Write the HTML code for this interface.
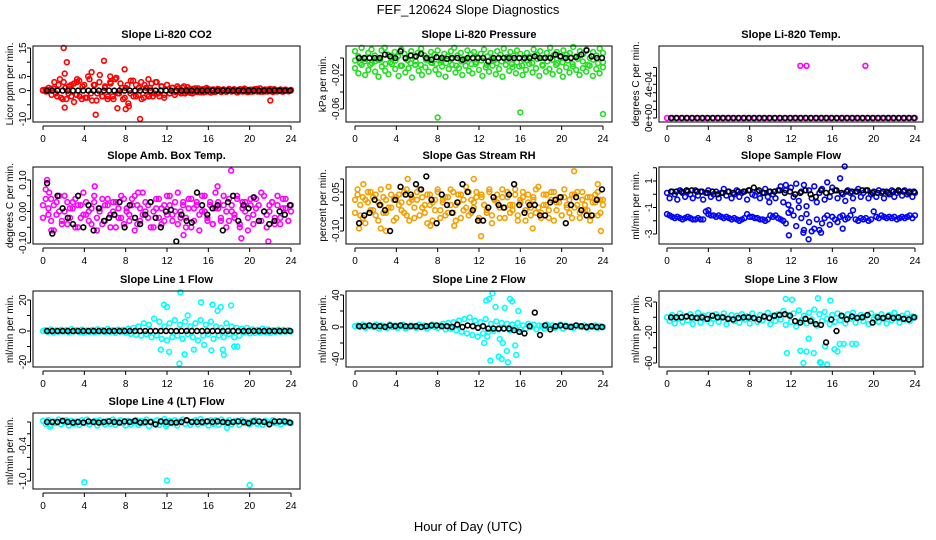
<!DOCTYPE html>
<html><head><meta charset="utf-8">
<style>
html,body{margin:0;padding:0;background:#fff;}
svg{display:block;font-family:"Liberation Sans",sans-serif;}
</style></head>
<body>
<svg id="chart" width="936" height="540" viewBox="0 0 936 540">
<text x="468" y="14" font-size="13" text-anchor="middle">FEF_120624  Slope Diagnostics</text>
<text x="468" y="531" font-size="13" text-anchor="middle">Hour of Day (UTC)</text>
</svg>
<script>
// ---- data (values per panel; times spread evenly over 0-24 h) ----
const xTicks = [0,4,8,12,16,20,24];
const co2Col = [0,0.3,-0.2,0.5,0.8,-1,2,-2.5,3,-3,1.5,-2,2.5,-1.5,3.5,-3,2,-2.5,4,-3.5,2,-1,5.5,-2,1.5,-3,3,-2,4,-1,2.5,-3,1,-4.5,3.5,-2,2,-1.5,3,-2.5,1,-2,2.5,-1,3,-2,1.5,-1.5,2,-1,1,-1.5,1.5,-0.5,1,-1,1.2,-0.8,0.6,-0.5,0.8,-0.6,0.5,-0.4,0.6,-0.7,0.4,-0.3,0.5,-0.5,0.4,-0.4,0.6,-0.3,0.5,-0.6,0.4,-0.3,0.7,-0.5,0.3,-0.4,0.5,-0.3,0.8,-0.4,0.4,-0.3,0.6,-0.5,0.3,-0.2,0.4,-0.3,0.3,-0.2,0.1];
const co2Col2 = [0.2,-0.3,1,-1.5,3,-2,4,-3,1,-1,2,-4,3,-2,1.5,-2.5,5,-1,2,-3.5,3,-2,1,-2,2.5,-3,4.5,-1,1,-2.5,2,-1,3.5,-2,1,-3,2,-1.5,1,-2,3,-1,1.5,-2.5,2,-1,1,-0.5,0.8,-1,1.5,-0.6,0.5,-1,0.8,-0.5,0.4,-0.6,0.9,-0.4,0.3,-0.5,0.6,-0.3,0.4,-0.4,0.5,-0.2,0.3,-0.6,0.5,-0.3,0.4,-0.5,0.3,-0.2,0.6,-0.4,0.2,-0.3,0.4,-0.2,0.5,-0.3,0.2,-0.4,0.3,-0.2,0.2];
const co2OutT = [2,2.3,2.1,5.9,7.9,5.1,9.4,2.1,7.2,8,8.3,22,4.7,3.3,6.5,10.2];
const co2OutV = [15,10,6,10.5,7.5,-8.5,-10,-6,-6.2,-6.5,-5.5,-3.5,6.5,4,5,4];
const co2Blk = [0,0,0,0,0,0,0,0,0,0,0,0,0,0,0,0,0,0,0,0,0,0,0,0,0,0,0,0,0,0,0,0,0,0,0,0,0,0,0,0,0,0,0,0,0,0,0,0];

const presCol = [0.008,0.002,0.012,-0.004,0.006,0.01,0.003,-0.002,0.009,0.012,0.004,0.0,0.007,0.002,0.01,0.005,-0.003,0.008,0.001,0.006,0.011,0.003,0.0,0.007,0.004,0.009,-0.002,0.005,0.002,0.008,0.012,0.003,0.006,-0.001,0.009,0.004,0.007,0.001,0.005,0.01,0.002,0.006,-0.003,0.008,0.004,0.011,0.001,0.007,0.003,0.009,0.005,-0.002,0.006,0.002,0.01,0.004,0.008,0.0,0.006,0.012,0.003,0.007,0.001,0.009,0.004,0.006,0.013,0.002,0.008,0.005,0.01,0.0,0.007,0.003,0.011,0.006];
const presCol2 = [-0.012,-0.018,-0.008,-0.02,-0.014,-0.006,-0.016,-0.022,-0.01,-0.015,-0.019,-0.007,-0.013,-0.021,-0.009,-0.017,-0.012,-0.023,-0.008,-0.015,-0.02,-0.011,-0.016,-0.006,-0.014,-0.019,-0.01,-0.022,-0.013,-0.008,-0.017,-0.012,-0.02,-0.009,-0.015,-0.018,-0.007,-0.014,-0.021,-0.011,-0.016,-0.009,-0.019,-0.013,-0.022,-0.008,-0.015,-0.011,-0.018,-0.01,-0.02,-0.014,-0.007,-0.017,-0.012,-0.021,-0.009,-0.016,-0.013,-0.019,-0.008,-0.015,-0.022,-0.011,-0.017,-0.01,-0.014,-0.02,-0.012,-0.016,-0.009,-0.021,-0.013,-0.018,-0.011];
const presCol3 = [-0.003,-0.006,-0.001,-0.008,-0.004,-0.002,-0.007,-0.005,-0.003,-0.009,-0.001,-0.006,-0.004,-0.008,-0.002,-0.005,-0.007,-0.003,-0.006,-0.001,-0.009,-0.004,-0.002,-0.007,-0.005,-0.003,-0.008,-0.001,-0.006,-0.004,-0.002,-0.007,-0.005,-0.009,-0.003,-0.006,-0.001,-0.008,-0.004,-0.002,-0.006,-0.005,-0.003,-0.007,-0.001,-0.004,-0.008,-0.002,-0.006,-0.005];
const presOutT = [8,16,24];
const presOutV = [-0.07,-0.064,-0.066];
const presBlk = [0,0,0,0,0,0.004,0.002,0,0.008,0,0.003,0.002,0.005,0,-0.002,0.001,0,-0.001,0,0,-0.002,0,0,0,0,-0.004,0,0,0,0,0,0,0,0,0.002,0,0,0,0.004,0.002,0,0,0.001,0.004,0.009,0.002,0,0];

const tempCol = [0,0,0,0,0,0,0,0,0,0,0,0,0,0,0,0,0,0,0,0,0,0,0,0,0,0,0,0,0,0,0,0,0,0,0,0,0,0,0,0,0,0,0,0,0,0,0,0,0];
const tempOutT = [12.9,13.5,19.2];
const tempOutV = [0.00062,0.00062,0.00062];
const tempBlk = [0,0,0,0,0,0,0,0,0,0,0,0,0,0,0,0,0,0,0,0,0,0,0,0,0,0,0,0,0,0,0,0,0,0,0,0,0,0,0,0,0,0,0,0,0,0,0,0];

const ambCol = [0.02,0.07,-0.01,0.04,-0.06,0.03,0.0,-0.03,0.05,-0.04,0.01,0.03,-0.05,0.02,-0.02,0.06,-0.01,0.0,-0.04,0.03,-0.06,0.01,0.04,-0.03,0.02,-0.05,0.0,0.03,-0.02,0.05,-0.04,0.01,-0.01,0.04,-0.06,0.02,-0.03,0.06,0.0,-0.02,0.03,-0.05,0.01,0.04,-0.04,0.02,-0.01,0.05,-0.03,0.0,0.06,-0.02,0.03,-0.05,0.01,0.04,-0.03,0.02,-0.06,0.05,0.0,-0.02,0.03,-0.04,0.06,0.01,-0.03,0.02,-0.05,0.04,0.0,-0.02,0.05,-0.04,0.01,0.03,-0.06,0.02,-0.01,0.04,-0.03,0.06,0.0,-0.05,0.02,0.03,-0.02,0.05,-0.04,0.01,0.04,-0.03,0.0];
const ambCol2 = [-0.02,0.04,0.01,-0.03,0.02,-0.01,0.05,-0.04,0.0,0.03,-0.02,0.01,0.04,-0.05,0.02,-0.01,0.03,-0.03,0.01,0.05,-0.02,0.0,-0.04,0.02,0.04,-0.01,0.03,-0.05,0.01,-0.02,0.04,0.0,-0.03,0.02,0.05,-0.04,0.01,-0.01,0.03,0.02,-0.05,0.0,0.04,-0.02,0.01,-0.03,0.05,0.02,-0.01,0.03,-0.04,0.0,0.02,-0.02,0.04,-0.05,0.01,0.03,-0.01,0.0,0.05,-0.03,0.02,-0.04,0.01,0.03,-0.02,0.05,0.0,-0.03,0.02,-0.01,0.04,-0.05,0.03,0.0,-0.02,0.04,-0.04,0.01,0.02,-0.03,0.05,-0.01,0.0,0.03,-0.04,0.02,-0.02,0.04,0.01,-0.03,0.02];
const ambOutT = [0.4,0.6,5,18.2,19.2,21.8,13.6,0.8,9.2,16.9];
const ambOutV = [0.1,0.06,0.08,0.13,-0.085,-0.095,-0.075,-0.06,0.06,0.08];
const ambBlk = [0.09,-0.07,0.05,0.01,-0.02,-0.04,0.05,-0.05,0.02,-0.06,0.01,-0.03,-0.02,-0.01,0.03,-0.05,0.02,-0.02,-0.04,-0.01,0.03,-0.02,-0.05,0.0,0.005,-0.095,-0.01,-0.03,-0.035,0.06,0.02,-0.01,0.01,0.02,-0.06,0.03,0.05,-0.03,0.02,0.01,0.045,-0.03,0.0,-0.04,-0.03,0.0,-0.01,0.02];

const rhCol = [0.02,0.06,-0.04,0.03,-0.07,0.01,0.05,-0.02,0.04,-0.06,0.0,0.03,-0.03,0.07,-0.01,0.02,-0.05,0.04,0.01,-0.03,0.06,-0.06,0.02,-0.01,0.05,-0.04,0.03,0.0,-0.07,0.04,0.01,-0.02,0.06,-0.05,0.02,0.03,-0.03,0.0,0.05,-0.06,0.01,0.04,-0.02,0.07,-0.04,0.02,-0.01,0.05,-0.05,0.03,0.0,-0.03,0.06,-0.07,0.02,0.04,-0.01,0.03,-0.05,0.05,0.0,-0.02,0.06,-0.04,0.01,0.03,-0.06,0.04,-0.01,0.02,-0.03,0.07,-0.05,0.0,0.04,-0.02,0.05,-0.06,0.01,0.03,-0.04,0.06,-0.01,0.02,-0.05,0.04,0.0,-0.03,0.05,-0.02,0.03,-0.06,0.01,0.04,-0.04,0.02,0.0];
const rhCol2 = [-0.03,0.04,0.0,-0.05,0.02,0.05,-0.02,0.03,-0.04,0.01,0.06,-0.03,0.02,-0.01,0.04,-0.06,0.03,0.0,-0.02,0.05,-0.04,0.01,0.03,-0.05,0.02,0.06,-0.01,-0.03,0.04,0.0,-0.06,0.02,0.05,-0.02,0.01,-0.04,0.03,0.06,-0.03,0.0,0.04,-0.05,0.02,-0.01,0.05,-0.03,0.01,0.03,-0.06,0.04,0.0,-0.02,0.05,-0.04,0.02,0.01,-0.05,0.06,-0.01,0.03,-0.03,0.0,0.04,-0.06,0.02,0.05,-0.02,0.01,-0.04,0.03,0.06,-0.01,-0.03,0.04,0.0,-0.05,0.02,0.05,-0.02,0.01,-0.04,0.03,0.0,-0.03,0.04,-0.01,0.05,-0.05,0.02,0.0,-0.02,0.03,-0.04,0.01,0.05,-0.03,0.02];
const rhOutT = [0.4,0.8,3,5.1,2.5,12.2,17.2,21.2,23.5,7.3,23.8,9.6,11.5];
const rhOutV = [-0.09,0.08,-0.1,0.1,-0.09,-0.12,-0.09,0.13,0.08,-0.08,-0.1,-0.08,0.1];
const rhBlk = [-0.07,-0.04,-0.03,0.02,0.0,-0.02,-0.1,0.02,0.07,0.04,0.04,0.08,0.06,0.11,0.02,-0.07,0.04,0.0,-0.03,0.01,0.08,0.05,-0.02,-0.06,-0.06,-0.01,0.03,0.0,-0.01,0.04,0.08,0.0,-0.03,0.0,0.0,-0.04,-0.04,0.01,0.02,0.03,-0.07,0.0,0.03,-0.02,-0.04,-0.04,0.02,0.06];

const sfUp = [0.1,-0.3,0.2,0.0,-0.4,0.3,0.1,-0.2,0.2,0.0,-0.3,0.3,-0.1,0.2,-0.4,0.1,0.3,-0.2,0.0,0.2,-0.3,0.1,0.4,-0.1,0.2,-0.3,0.0,0.3,-0.2,0.1,0.2,-0.4,0.3,0.0,-0.1,0.2,-0.3,0.1,0.4,-0.2,0.2,0.0,-0.3,0.3,0.6,-0.6,0.3,-0.8,0.5,-0.2,0.8,-0.5,0.2,0.7,-0.9,0.3,-0.3,0.6,-0.6,0.1,0.4,-0.4,0.9,-0.2,0.5,0.3,-0.3,1.2,0.0,-0.5,0.3,0.1,-0.3,0.2,0.4,-0.2,0.1,0.3,-0.3,0.0,0.2,-0.2,0.3,0.1,-0.3,0.2,0.0,0.3,-0.2,0.1,0.2,-0.1,0.3,0.0,0.2,-0.2,0.1];
const sfLow = [-1.5,-1.6,-1.7,-1.8,-1.7,-1.8,-1.9,-1.8,-1.7,-1.8,-1.9,-1.9,-1.8,-1.9,-1.9,-1.3,-1.5,-1.6,-1.6,-1.7,-1.6,-1.7,-1.8,-1.7,-1.8,-1.9,-1.8,-1.9,-2.0,-1.9,-1.8,-1.5,-1.7,-1.7,-1.8,-1.8,-1.9,-1.9,-2.0,-1.9,-1.6,-1.7,-1.6,-1.8,-1.9,-2.0,-2.2,-1.4,-1.2,-1.6,-2.4,-1.0,-1.8,-2.7,-1.5,-2.1,-2.8,-2.6,-1.9,-2.7,-2.2,-1.8,-1.6,-2.3,-1.7,-1.9,-2.1,-1.7,-1.6,-1.9,-1.8,-1.6,-1.2,-1.9,-2.0,-1.8,-1.9,-1.8,-2.0,-1.9,-1.3,-1.7,-1.8,-1.6,-1.7,-1.8,-1.7,-1.8,-1.7,-1.9,-1.8,-1.7,-1.8,-1.7,-1.6,-1.8,-1.6];
const sfOutT = [11.8,13.2,13.7,17.2,14.9,17,9.9,4,11.5];
const sfOutV = [-3.1,-2.9,-3.4,2.1,-2.9,-2.6,-0.6,-1.2,0.7];
const sfBlk = [0.2,0.2,0.2,0.3,0.3,0.2,0.2,0.1,0.2,0.0,0.1,0.2,0.1,0.2,0.2,0.3,0.5,0.3,0.1,0.2,0.2,0.3,0.1,0.2,0.0,0.1,0.3,0.0,-0.2,0.3,0.1,0.2,0.3,0.1,0.2,0.2,0.2,0.3,0.3,0.1,0.1,0.2,0.1,0.2,0.3,0.2,0.1,0.2];

const l1Col = [0,0.5,-0.5,1,-1,0.3,-0.6,0.8,-0.4,0.6,-0.8,1.2,-0.3,0.5,-0.7,0.9,-1,0.4,-0.5,0.7,-0.9,1.1,-0.4,0.6,-0.8,1.3,-0.6,0.5,-1.2,0.9,-0.5,0.8,-1,1.5,-1.8,2,-2.5,3,-3,5,-2,4,-4,8,-3,6,-5,3,-6,5,-4,7,-3,4,-5,6,-2,3,-4,5,-6,7,-3,4,-2,6,-5,3,-3,2,-4,5,-2,3,-4,2,-3,1.5,-1,2,-1.5,1,-1.2,0.8,-1,1.5,-0.8,1,-1.2,0.5,-0.6,0.9,-0.5,0.7,-0.4,0.6,-0.3];
const l1OutT = [11.7,13.3,15.3,16.4,17.2,18.2,12,11.4,13.7,12.2,14.6,16.3,17.5,18.5,18.8,17.4,13.2,15.6,16.9,14];
const l1OutV = [17,25,18.5,17,15.5,16.5,15.5,-12,-15,-13.5,-12,-12.5,-15.5,-10,-10,-12,-21,-9,13,10];
const l1Blk = [0,0,0,0,0,0,0,0,0,0,0,0,0,0,0,0,0,0,0,0,0,0,0,0,0,0,0,0,0,0,0,0,0,0,0,0,0,0,0,0,0,0,0,0,0,0,0,0];

const l2Col = [1,2,0,3,-1,2,1,0,3,-2,2,1,-1,3,0,2,-1,1,3,-2,0,2,1,-1,3,0,2,-2,1,3,0,-1,2,4,-3,5,-2,6,-4,8,-6,10,-8,12,-10,8,-12,6,-8,10,-6,4,-5,7,-3,5,-2,4,-4,3,-1,5,-3,2,-2,4,0,3,-3,2,1,-2,3,0,2,-1,1,3,-2,2,0,1,-1,2,1,0,2,-1,1,0,2,-1,1,0];
const l2OutT = [13.3,12.7,13,13.6,14.5,15,15.2,15.8,12.8,14,14.2,13.1,14.8,15.6,12.5,14.3,14.7,15.5,13.9];
const l2OutV = [42,33,35,25,24,35,32,20,-12,-15,-40,-42,-44,-35,-20,-20,-30,-23,-37];
const l2Blk = [1,1,2,1,1,0,2,1,2,1,1,1,0,1,2,2,1,1,0,3,0,2,1,-1,1,-2,-2,-2,-2,-2,-4,-6,-8,1,18,-10,2,-3,1,2,1,0,2,1,0,1,0,0];

const l3Col = [0,-5,3,-8,-2,5,-6,1,-4,4,-9,-1,6,-7,2,-3,3,-8,-2,4,-6,0,5,-9,-1,3,-5,2,-7,4,-3,1,-8,5,-2,-6,3,-4,0,6,-9,2,-5,4,-3,8,-10,3,-6,5,-12,9,-4,2,-8,6,-3,10,-11,4,-5,7,-2,-9,3,-6,5,-4,1,-8,4,-2,6,-7,0,3,-5,2,-9,5,-3,1,-6,4,-2,-8,3,-4,6,-1,-7,2,-3,5,-5,1,0];
const l3OutT = [11.5,12.1,13.2,13.5,14.2,14.8,15.5,16.2,16.5,17.9,18.3,15.8,14.9,11.6,13.7,14.6,17.1,15.3,16.7,12.9];
const l3OutV = [24,23,-60,-45,-47,-59,-62,-42,-45,-35,-35,22,-60,-47,-28,25,-35,-38,-35,-44];
const l3Blk = [0,0,0,1,0,-1,0,-2,2,0,0,-2,-3,-1,0,0,-1,-3,1,-1,2,3,4,2,-5,-7,-2,-5,-9,-10,-33,-3,-18,2,-3,1,-1,0,3,-7,0,-1,1,-1,0,-2,-3,0];

const l4Col = [0.02,-0.03,0.03,-0.05,0.01,-0.02,0.04,-0.04,0.0,0.03,-0.06,0.02,-0.03,0.01,-0.05,0.03,-0.02,0.04,-0.04,0.0,0.02,-0.06,0.03,-0.01,-0.04,0.02,-0.03,0.04,-0.05,0.01,0.03,-0.02,-0.06,0.02,-0.04,0.0,0.03,-0.05,0.02,-0.02,0.04,-0.07,0.01,-0.03,0.03,-0.05,0.0,0.05,-0.04,0.02,-0.02,0.03,-0.06,0.01,0.04,-0.03,0.02,-0.05,0.0,0.03,-0.04,0.05,-0.02,0.01,-0.06,0.03,-0.03,0.02,-0.05,0.04,0.0,-0.02,0.03,-0.04,0.01,0.02,-0.05,0.03,-0.02,0.0,-0.04,0.02,0.03,-0.03,0.01,-0.05,0.02,0.0,-0.03,0.03,-0.02,0.01,-0.04,0.02,-0.01,0.0,-0.02];
const l4OutT = [4,12,20,0.7,17.8,11.9,16.7];
const l4OutV = [-1.02,-0.99,-1.07,-0.08,-0.1,-0.07,0.03];
const l4Blk = [0,0,0,0.02,0,-0.01,0,-0.01,0.01,0,-0.01,0,0.01,0,-0.01,0.01,0,0.02,-0.01,0,0,-0.04,0.01,0,-0.01,-0.01,0,0.03,0,0,0,0.01,0,0.01,0,-0.01,0,0.01,0,-0.02,0.01,0.01,0,-0.04,0.01,0.01,0.01,-0.01];

// ---- layout (geometry only) ----
const COLS = [[33,300,43,291],[346,612,355,603],[659,923,667,915]];
const ROWS = [[46,122],[167,244],[291,367],[413,489]];
const NS = 'http://www.w3.org/2000/svg';
const svg = document.getElementById('chart');
function mk(tag, attrs, parent) {
  const e = document.createElementNS(NS, tag);
  for (const k in attrs) e.setAttribute(k, attrs[k]);
  (parent || svg).appendChild(e);
  return e;
}
const panels = [
  {key:'co2', title:'Slope Li-820 CO2', ylab:'Licor ppm per min.', c:0,r:0, y:[15,48,-10,119], ticks:[15,10,5,0,-5,-10], labs:['15','','5','0','','-10'], color:'#ff0000', series:[co2Col,co2Col2], outT:co2OutT, outV:co2OutV, blk:co2Blk},
  {key:'pressure', title:'Slope Li-820 Pressure', ylab:'kPa per min.', c:1,r:0, y:[0,58,-0.06,109], ticks:[0,-0.02,-0.04,-0.06], labs:['','-0.02','','-0.06'], color:'#22dd22', series:[presCol,presCol2,presCol3], outT:presOutT, outV:presOutV, blk:presBlk},
  {key:'temp', title:'Slope Li-820 Temp.', ylab:'degrees C per min.', c:2,r:0, y:[0,118,0.0004,84.3], ticks:[0,0.0001,0.0002,0.0003,0.0004,0.0005,0.0006], labs:['0e+00','','','','4e-04','',''], color:'#ff00ff', series:[tempCol], outT:tempOutT, outV:tempOutV, blk:tempBlk},
  {key:'amb', title:'Slope Amb. Box Temp.', ylab:'degrees C per min.', c:0,r:1, y:[0.1,180,-0.1,243], ticks:[0.1,0.05,0,-0.05,-0.1], labs:['0.10','','0.00','','-0.10'], color:'#ff00ff', series:[ambCol,ambCol2], outT:ambOutT, outV:ambOutV, blk:ambBlk},
  {key:'rh', title:'Slope Gas Stream RH', ylab:'percent per min.', c:1,r:1, y:[0.05,192,-0.1,231], ticks:[0.1,0.05,0,-0.05,-0.1], labs:['','0.05','','','-0.10'], color:'#f4a000', series:[rhCol,rhCol2], outT:rhOutT, outV:rhOutV, blk:rhBlk},
  {key:'sample', title:'Slope Sample Flow', ylab:'ml/min per min.', c:2,r:1, y:[1,181,-3,234], ticks:[2,1,0,-1,-2,-3], labs:['','1','','-1','','-3'], color:'#0000ff', series:[sfUp,sfLow], outT:sfOutT, outV:sfOutV, blk:sfBlk},
  {key:'line1', title:'Slope Line 1 Flow', ylab:'ml/min per min.', c:0,r:2, y:[20,300,-20,362], ticks:[20,10,0,-10,-20], labs:['20','','0','','-20'], color:'#00ffff', series:[l1Col], outT:l1OutT, outV:l1OutV, blk:l1Blk},
  {key:'line2', title:'Slope Line 2 Flow', ylab:'ml/min per min.', c:1,r:2, y:[40,295,-40,359], ticks:[40,20,0,-20,-40], labs:['40','','0','','-40'], color:'#00ffff', series:[l2Col], outT:l2OutT, outV:l2OutV, blk:l2Blk},
  {key:'line3', title:'Slope Line 3 Flow', ylab:'ml/min per min.', c:2,r:2, y:[20,302,-60,363], ticks:[20,0,-20,-40,-60], labs:['20','','-20','','-60'], color:'#00ffff', series:[l3Col], outT:l3OutT, outV:l3OutV, blk:l3Blk},
  {key:'line4', title:'Slope Line 4 (LT) Flow', ylab:'ml/min per min.', c:0,r:3, y:[0,422,-1,481], ticks:[0,-0.2,-0.4,-0.6,-0.8,-1.0], labs:['','','-0.4','','','-1.0'], color:'#00ffff', series:[l4Col], outT:l4OutT, outV:l4OutV, blk:l4Blk}
];

panels.forEach(p => {
  const [bx0,bx1,x0,x24] = COLS[p.c];
  const [by0,by1] = ROWS[p.r];
  const xs = t => x0 + t*(x24-x0)/24;
  const ys = v => p.y[1] + (v-p.y[0])*(p.y[3]-p.y[1])/(p.y[2]-p.y[0]);
  const g = mk('g', {});
  
  
  const ttl = mk('text', {x:(bx0+bx1)/2, y:by0-8, 'font-size':11, 'font-weight':'bold', 'text-anchor':'middle'}, g);
  ttl.textContent = p.title;
  
  
  const yl = mk('text', {transform:`translate(${bx0-20},${(by0+by1)/2}) rotate(-90)`, 'font-size':10, 'text-anchor':'middle'}, g);
  yl.textContent = p.ylab;
  
  
  // points
  const pts = mk('g', {fill:'none', 'stroke-width':1.6}, g);
  
  
  const dot = (t, v, col, nm) => {
    const c = mk('circle', {cx:xs(t).toFixed(1), cy:ys(v).toFixed(1), r:2.4, stroke:col}, pts);
    
    
  };
  p.series.forEach(arr => arr.forEach((v,i) => dot(i*24/(arr.length-1), v, p.color, p.key + '-point')));
  p.outT.forEach((t,i) => dot(t, p.outV[i], p.color, p.key + '-outlier'));
  p.blk.forEach((v,i) => dot(0.5*(i+1) - 0.1, v, '#000', p.key + '-mean-point'));
  // box
  const box = mk('rect', {x:bx0, y:by0, width:bx1-bx0, height:by1-by0, fill:'none', stroke:'#000', 'stroke-width':1}, g);
  
  
  // x axis
  const xa = mk('g', {}, g);
  
  
  mk('line', {x1:xs(0), x2:xs(24), y1:by1+4, y2:by1+4, stroke:'#000'}, xa);
  xTicks.forEach(t => {
    mk('line', {x1:xs(t), x2:xs(t), y1:by1+4, y2:by1+8, stroke:'#000'}, xa);
    const tx = mk('text', {x:xs(t), y:by1+20, 'font-size':10, 'text-anchor':'middle'}, xa);
    tx.textContent = t;
    
    
  });
  // y axis
  const ya = mk('g', {}, g);
  
  
  const tys = p.ticks.map(ys);
  mk('line', {x1:bx0-2.5, x2:bx0-2.5, y1:Math.min(...tys), y2:Math.max(...tys), stroke:'#000'}, ya);
  p.ticks.forEach((v,i) => {
    const ty = ys(v);
    mk('line', {x1:bx0-6, x2:bx0-2.5, y1:ty, y2:ty, stroke:'#000'}, ya);
    if (p.labs[i]) {
      const lt = mk('text', {transform:`translate(${bx0-7},${ty}) rotate(-90)`, 'font-size':10, 'text-anchor':'middle'}, ya);
      lt.textContent = p.labs[i];
      
      
    }
  });
});
</script>
</body></html>
